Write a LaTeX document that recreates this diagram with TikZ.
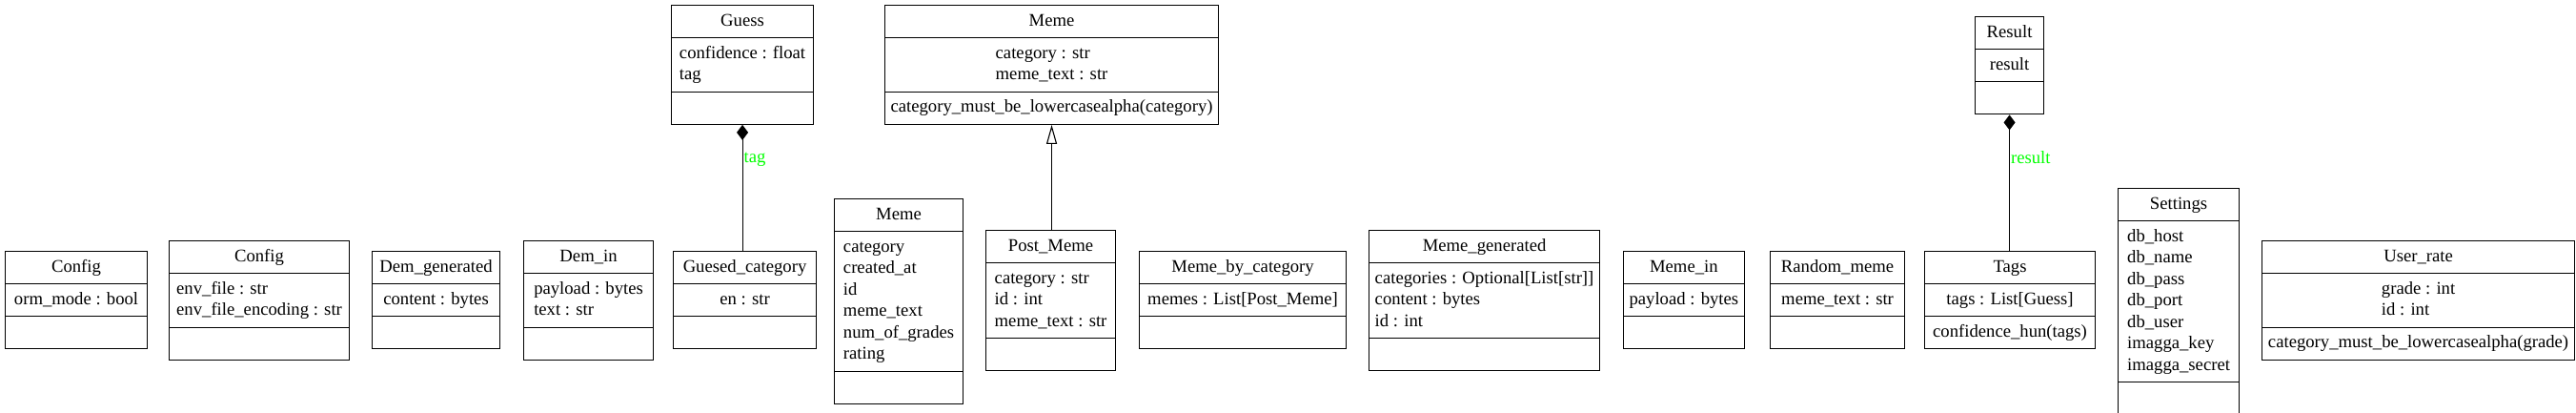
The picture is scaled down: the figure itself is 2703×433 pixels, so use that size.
\documentclass[tikz,border=0pt]{standalone}
\usepackage{fontspec}
\setmainfont{Liberation Serif}
\usetikzlibrary{shapes.multipart,arrows.meta}

\newcommand{\classtext}[3]{\strut#1\nodepart{two}\strut#2\strut\nodepart{three}\strut#3\strut}

\begin{document}
\begin{tikzpicture}[x=1pt, y=-1pt,
		umlclass/.style={draw, line width=1.1pt, rectangle split, rectangle split parts=3,
			align=left, anchor=north west, inner xsep=6pt, inner ysep=5.25pt,
			font=\fontsize{18.67}{22.5}\selectfont},
		comp/.style={line width=1.1pt, {Diamond[length=16pt,width=12pt]}-},
		inherit/.style={line width=1.1pt, {Triangle[open,length=20pt,width=11pt]}-},
		edgelabel/.style={anchor=base west, inner sep=1pt, text=green,
			font=\fontsize{18.67}{22.5}\selectfont}]
		\path[use as bounding box, fill=white] (0,0) rectangle (2703,433);
		% top row
		\node[umlclass, minimum width=149pt] (guess) at (704,5)
			{\classtext{Guess}{confidence : float\\tag}{}};
		\node[umlclass, minimum width=349pt] (meme) at (928,5)
			{\classtext{Meme}{category : str\\meme\_text : str}{category\_must\_be\_lowercasealpha(category)}};
		\node[umlclass, minimum width=72pt] (result) at (2072,17)
			{\classtext{Result}{result}{}};
		% bottom row
		\node[umlclass, minimum width=149pt] (config) at (5,263)
			{\classtext{Config}{orm\_mode : bool}{}};
		\node[umlclass, minimum width=189pt] (configenv) at (177,252)
			{\classtext{Config}{env\_file : str\\env\_file\_encoding : str}{}};
		\node[umlclass, minimum width=134pt] (demgen) at (390,263)
			{\classtext{Dem\_generated}{content : bytes}{}};
		\node[umlclass, minimum width=136pt] (demin) at (549,252)
			{\classtext{Dem\_in}{payload : bytes\\text : str}{}};
		\node[umlclass, minimum width=150pt] (gcat) at (706,263)
			{\classtext{Guesed\_category}{en : str}{}};
		\node[umlclass, minimum width=135pt] (memeorm) at (875,208)
			{\classtext{Meme}{category\\created\_at\\id\\meme\_text\\num\_of\_grades\\rating}{}};
		\node[umlclass, minimum width=136pt] (postmeme) at (1034,241)
			{\classtext{Post\_Meme}{category : str\\id : int\\meme\_text : str}{}};
		\node[umlclass, minimum width=217pt] (memecat) at (1195,263)
			{\classtext{Meme\_by\_category}{memes : List[Post\_Meme]}{}};
		\node[umlclass, minimum width=242pt] (memegen) at (1436,241)
			{\classtext{Meme\_generated}{categories : Optional[List[str]]\\content : bytes\\id : int}{}};
		\node[umlclass, minimum width=122pt] (memein) at (1703,263)
			{\classtext{Meme\_in}{payload : bytes}{}};
		\node[umlclass, minimum width=141pt] (randmeme) at (1857,263)
			{\classtext{Random\_meme}{meme\_text : str}{}};
		\node[umlclass, minimum width=179pt] (tags) at (2019,263)
			{\classtext{Tags}{tags : List[Guess]}{confidence\_hun(tags)}};
		\node[umlclass, minimum width=127pt] (settings) at (2222,197)
			{\classtext{Settings}{db\_host\\db\_name\\db\_pass\\db\_port\\db\_user\\imagga\_key\\imagga\_secret}{}};
		\node[umlclass, minimum width=328pt] (userrate) at (2373,252)
			{\classtext{User\_rate}{grade : int\\id : int}{category\_must\_be\_lowercasealpha(grade)}};
		% relations
		\draw[comp] (guess.south) -- (guess.south |- gcat.north) node[edgelabel, pos=0.30] {tag};
		\draw[inherit] (meme.south) -- (meme.south |- postmeme.north);
		\draw[comp] (result.south) -- (result.south |- tags.north) node[edgelabel, pos=0.36] {result};
	\end{tikzpicture}
\end{document}
